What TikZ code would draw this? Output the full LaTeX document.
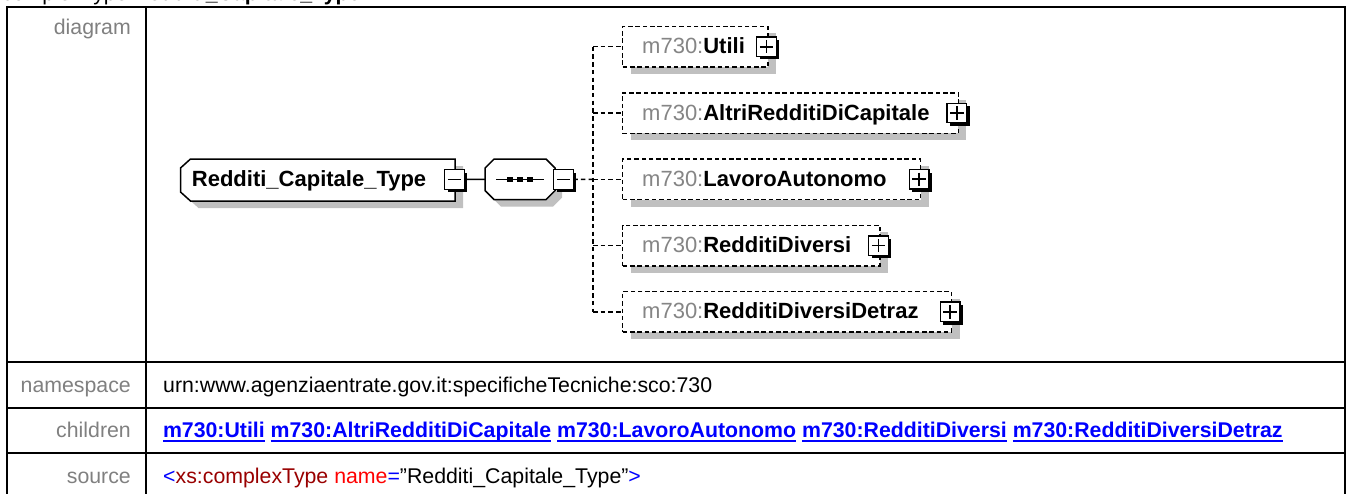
\documentclass[tikz,border=0pt]{standalone}
\usepackage{fontspec}
\setmainfont{Liberation Sans}
\usetikzlibrary{calc,shadows}
\definecolor{lblgray}{HTML}{808080}
\definecolor{nsgray}{HTML}{858585}
\definecolor{shadowgray}{HTML}{C0C0C0}
\definecolor{linkblue}{HTML}{0000FF}
\definecolor{tagred}{HTML}{990000}
\definecolor{attrred}{HTML}{FF0000}
\newcommand{\tabfont}{\fontsize{21.3pt}{26pt}\selectfont}
\newcommand{\dgfont}{\fontsize{22pt}{26pt}\selectfont}
\newcommand{\rootoutline}{($(root.north west)+(10,0)$) -- (root.north east) -- (root.south east) -- ($(root.south west)+(10,0)$) -- ($(root.south west)+(0,-9)$) -- ($(root.north west)+(0,9)$) -- cycle}
\newcommand{\seqoutline}{($(seq.north west)+(9,0)$) -- ($(seq.north east)+(-9,0)$) -- ($(seq.north east)+(0,9)$) -- ($(seq.south east)+(0,-9)$) -- ($(seq.south east)+(-9,0)$) -- ($(seq.south west)+(9,0)$) -- ($(seq.south west)+(0,-9)$) -- ($(seq.north west)+(0,9)$) -- cycle}
\begin{document}
\begin{tikzpicture}[x=1pt,y=-1pt,
  grid/.style={line width=2pt,draw=black},
  lbl/.style={anchor=base east,inner sep=0pt,text=lblgray,font=\tabfont},
  val/.style={anchor=base west,inner sep=0pt,font=\tabfont},
  link/.style={anchor=base west,inner sep=0pt,outer sep=0pt,text=linkblue,font=\tabfont\bfseries},
  uline/.style={draw=linkblue,line width=1.8pt},
  dtext/.style={anchor=base west,inner sep=0pt,font=\dgfont},
  holder/.style={inner sep=0pt,outer sep=0pt},
  elem/.style={draw,line width=1.5pt,dash pattern=on 4.5pt off 2.8pt,fill=white,minimum height=40.5pt,inner sep=0pt,outer sep=0pt,
    drop shadow={shadow xshift=8pt,shadow yshift=-7pt,fill=shadowgray,opacity=1}},
  togg/.style={draw,line width=1.4pt,fill=white,minimum size=19.5pt,inner sep=0pt,outer sep=0pt,
    drop shadow={shadow xshift=3pt,shadow yshift=-3pt,fill=black,opacity=1}},
  plusbox/.style={togg,path picture={\draw[line width=1.7pt] ([xshift=3pt]path picture bounding box.west) -- ([xshift=-3pt]path picture bounding box.east) ([yshift=-3pt]path picture bounding box.north) -- ([yshift=3pt]path picture bounding box.south);}},
  minusbox/.style={togg,path picture={\draw[line width=1.7pt] ([xshift=3pt]path picture bounding box.west) -- ([xshift=-3pt]path picture bounding box.east);}},
  conn/.style={line width=1.5pt},
  dconn/.style={line width=1.5pt,dash pattern=on 4.5pt off 3.2pt},
]
\useasboundingbox (0,0) rectangle (1348,493);
\fill[white] (0,0) rectangle (1348,493);

% header line, cut off at the top edge as in the reference
\node[anchor=base west,inner sep=0pt,font=\tabfont] (title) at (2,0.3) {complexType \textbf{Redditi\_Capitale\_Type}};

% table grid
\draw[grid] (7,496) -- (7,7.3) -- (1345,7.3) -- (1345,496);
\draw[grid] (146,7.3) -- (146,496);
\draw[grid] (7,362) -- (1345,362);
\draw[grid] (7,407.5) -- (1345,407.5);
\draw[grid] (7,453.3) -- (1345,453.3);

% labels
\node[lbl] (ldiag) at (131,34.5) {diagram};
\node[lbl] (lns) at (131,392) {namespace};
\node[lbl] (lch) at (131,437) {children};
\node[lbl] (lsrc) at (131,483.5) {source};

% values
\node[val] (vns) at (163,392) {urn:www.agenziaentrate.gov.it:specificheTecniche:sco:730};
\node[link] (c1) at (163,437) {m730:Utili};
\node[link] (c2) at ([xshift=5.9pt]c1.base east) {m730:AltriRedditiDiCapitale};
\node[link] (c3) at ([xshift=5.9pt]c2.base east) {m730:LavoroAutonomo};
\node[link] (c4) at ([xshift=5.9pt]c3.base east) {m730:RedditiDiversi};
\node[link] (c5) at ([xshift=5.9pt]c4.base east) {m730:RedditiDiversiDetraz};
\foreach \i in {1,...,5} {\draw[uline] ([yshift=-4pt]c\i.base west) -- ([yshift=-4pt]c\i.base east);}
\node[val] (vsrc) at (163,483.5) {\textcolor{linkblue}{<}\textcolor{tagred}{xs:complexType} \textcolor{attrred}{name}\textcolor{linkblue}{=}"Redditi\_Capitale\_Type"\textcolor{linkblue}{>}};

% root complex type
\node[holder,minimum width=274.5pt,minimum height=42pt] (root) at (317.75,180) {};
\fill[shadowgray,transform canvas={xshift=8pt,yshift=-7pt}] \rootoutline;
\filldraw[fill=white,line width=1.5pt] \rootoutline;
\node[dtext] (rtxt) at (191.7,186.5) {\textbf{Redditi\_Capitale\_Type}};
\node[minusbox] (rmin) at (454.5,179.5) {};

% sequence compositor
\node[holder,minimum width=70pt,minimum height=40.5pt] (seq) at (520,179.3) {};
\fill[shadowgray,transform canvas={xshift=7pt,yshift=-7pt}] \seqoutline;
\filldraw[fill=white,line width=1.5pt] \seqoutline;
\draw[conn] ($(seq.center)+(-24,0)$) -- ($(seq.center)+(24,0)$);
\fill ($(seq.center)+(-12.75,-2.75)$) rectangle +(5.5,5.5);
\fill ($(seq.center)+(-2.75,-2.75)$) rectangle +(5.5,5.5);
\fill ($(seq.center)+(7.25,-2.75)$) rectangle +(5.5,5.5);
\node[minusbox] (smin) at (563.5,179.5) {};

\draw[conn] (rmin.east) -- (seq.west);

% child elements
\node[elem,minimum width=145.3pt] (e1) at (695.35,46.7) {};
\node[elem,minimum width=335.6pt] (e2) at (790.5,113) {};
\node[elem,minimum width=298pt] (e3) at (771.7,179.3) {};
\node[elem,minimum width=257.3pt] (e4) at (751.35,245.6) {};
\node[elem,minimum width=329pt] (e5) at (787.2,311.9) {};

\node[dtext] (t1) at (642,53.7) {\textcolor{nsgray}{m730:}\textbf{Utili}};
\node[dtext] (t2) at (642,120) {\textcolor{nsgray}{m730:}\textbf{AltriRedditiDiCapitale}};
\node[dtext] (t3) at (642,186.3) {\textcolor{nsgray}{m730:}\textbf{LavoroAutonomo}};
\node[dtext] (t4) at (642,252.6) {\textcolor{nsgray}{m730:}\textbf{RedditiDiversi}};
\node[dtext] (t5) at (642,318.9) {\textcolor{nsgray}{m730:}\textbf{RedditiDiversiDetraz}};

\node[plusbox] (p1) at ([xshift=-1.5pt]e1.east) {};
\node[plusbox] (p2) at ([xshift=-1.5pt]e2.east) {};
\node[plusbox] (p3) at ([xshift=-1.5pt]e3.east) {};
\node[plusbox] (p4) at ([xshift=-1.5pt]e4.east) {};
\node[plusbox] (p5) at ([xshift=-1.5pt]e5.east) {};

% connectors
\coordinate (sp1) at (593,46.7);
\coordinate (sp2) at (593,113);
\coordinate (sp3) at (593,179.3);
\coordinate (sp4) at (593,245.6);
\coordinate (sp5) at (593,311.9);
\draw[dconn] (smin.east) -- (sp3);
\draw[dconn] (sp1) -- (sp5);
\foreach \i in {1,...,5} {\draw[dconn] (sp\i) -- (e\i.west);}
\end{tikzpicture}
\end{document}
